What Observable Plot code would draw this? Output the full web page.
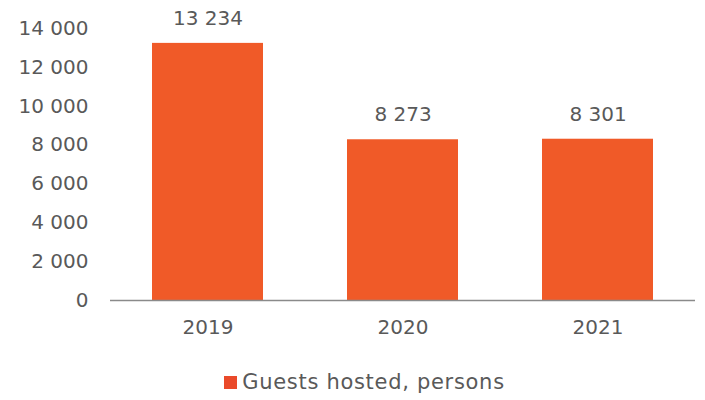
<!DOCTYPE html>
<html>
<head>
<meta charset="utf-8">
<script src="https://cdn.jsdelivr.net/npm/d3@7"></script>
<script src="https://cdn.jsdelivr.net/npm/@observablehq/plot@0.6"></script>
<style>
  html, body { margin: 0; padding: 0; background: #fff; }
  #chart { width: 705px; font-family: "DejaVu Sans", sans-serif; }
  .legend { display: flex; justify-content: center; align-items: center; height: 44px; padding-top: 14px; margin-left: 24px;
            font-size: 21px; letter-spacing: 0.7px; color: #595959; font-family: "DejaVu Sans", sans-serif; }
  .legend .sw { width: 13px; height: 13px; background: #EA4A2A; margin-right: 5px; }
</style>
</head>
<body>
<div id="chart"></div>
<script>
const years = ["2019", "2020", "2021"];
const guests = [13234, 8273, 8301];
const yTicks = [0, 2000, 4000, 6000, 8000, 10000, 12000, 14000];
const seriesName = "Guests hosted, persons";
const barColor = "#F05A28";

const data = years.map((y, i) => ({year: y, value: guests[i]}));
const fmt = v => d3.format(",")(v).replace(/,/g, " ");

const plot = Plot.plot({
  width: 705,
  height: 346,
  marginTop: 28,
  marginBottom: 46,
  marginLeft: 110,
  marginRight: 10,
  style: {fontFamily: "DejaVu Sans, sans-serif", fontSize: "20px", color: "#595959", background: "#fff"},
  x: {domain: years, paddingInner: 0.43, paddingOuter: 0.215, label: null},
  y: {domain: [0, 14000], label: null},
  marks: [
    Plot.barY(data, {x: "year", y: "value", fill: barColor}),
    Plot.ruleY([0], {stroke: "#8a8a8a", strokeWidth: 1.5}),
    Plot.axisY({ticks: yTicks, tickSize: 0, tickPadding: 22, tickFormat: fmt, label: null, fontSize: 20}),
    Plot.axisX({tickSize: 0, tickPadding: 19, label: null, fontSize: 20}),
    Plot.text(data, {x: "year", y: "value", text: d => fmt(d.value), dy: -25, fontSize: 20, fill: "#595959"})
  ]
});
document.getElementById("chart").appendChild(plot);
const lg = document.createElement("div");
lg.className = "legend";
lg.innerHTML = `<span class="sw"></span><span>${seriesName}</span>`;
document.getElementById("chart").appendChild(lg);
</script>
</body>
</html>
